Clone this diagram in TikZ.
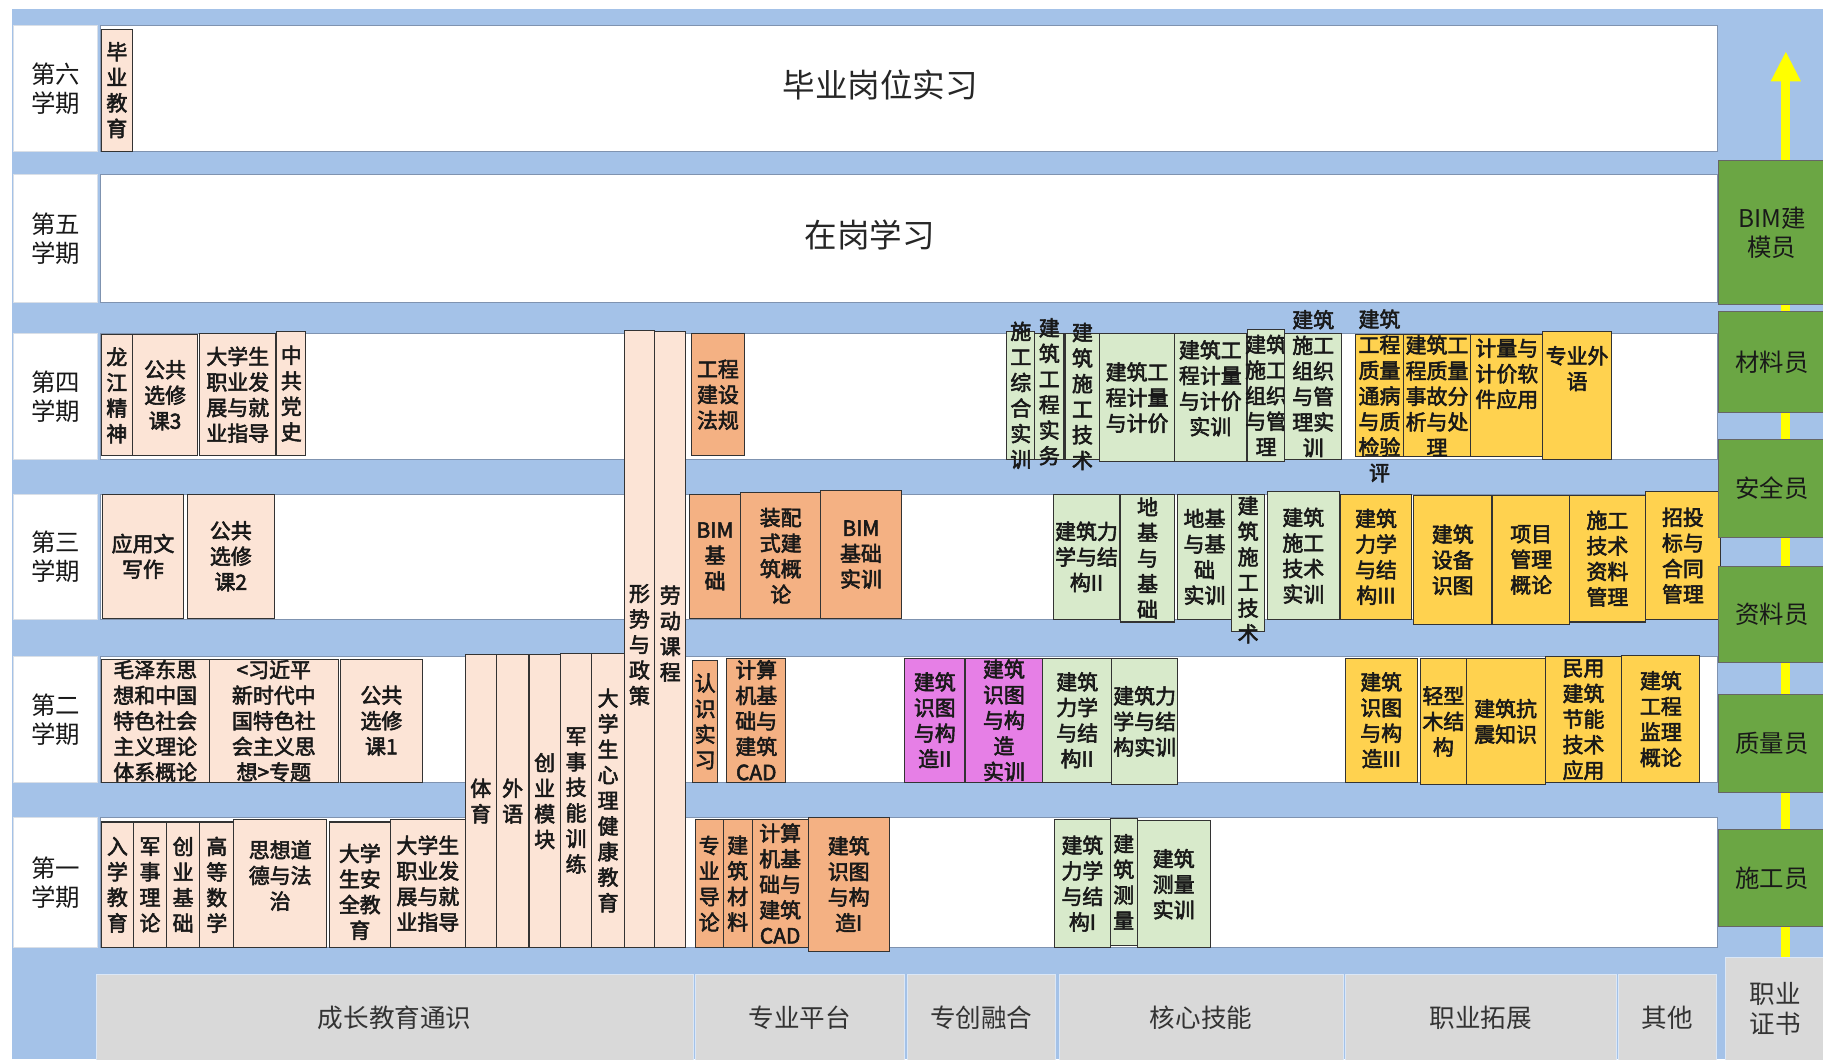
\documentclass[tikz,border=0pt]{standalone}
\usepackage{fontspec}
\setmainfont{Noto Sans CJK SC}[AutoFakeBold=2.6]
\usetikzlibrary{arrows.meta}
\definecolor{cBg}{HTML}{A4C2E8}
\definecolor{cPeach}{HTML}{FCE4D6}
\definecolor{cOrng}{HTML}{F4B183}
\definecolor{cMag}{HTML}{E67FE6}
\definecolor{cLgreen}{HTML}{D8EACB}
\definecolor{cGold}{HTML}{FFD24F}
\definecolor{cDgreen}{HTML}{6BA644}
\definecolor{cGry}{HTML}{D9D9D9}
\definecolor{cRow}{HTML}{7F93B0}
\definecolor{cYel}{HTML}{FFFF00}
% generic box: style, x1, y1, x2, y2, name  -> followed by {text};
\newcommand\mkb[6]{\node[#1,minimum width={(#4-#2)*1pt},minimum height={(#5-#3)*1pt}] (#6) at ({(#2+#4)/2},{(#3+#5)/2})}
% course box: [label opts], fill, x1, y1, x2, y2, name, text
\newcommand\cbx[8][]{\node[crs,fill=#2,minimum width={(#5-#3)*1pt},minimum height={(#6-#4)*1pt},label={[ctext,#1]center:{#8}}] (#7) at ({(#3+#5)/2},{(#4+#6)/2}) {};}
\begin{document}
\begin{tikzpicture}[x=1pt,y=-1pt,
  rowbox/.style={draw=cRow,line width=0.8pt,fill=white,inner sep=0pt,outer sep=0pt},
  semlab/.style={rowbox,draw=white!70!cRow,align=center,font=\fontsize{21}{25}\selectfont,text=black!90},
  bigtext/.style={font=\fontsize{28}{32}\selectfont,text=black!85},
  crs/.style={draw=black!80,line width=0.9pt,inner sep=0pt,outer sep=0pt},
  ctext/.style={align=center,font=\bfseries\fontsize{18}{22}\selectfont,text=black!90,inner sep=0pt},
  job/.style={draw=black!60,fill=cDgreen,line width=0.8pt,inner sep=0pt,align=center,font=\fontsize{21}{25}\selectfont,text=black!90},
  cat/.style={fill=cGry,draw=white!60!cBg,line width=0.6pt,inner sep=0pt,align=center,font=\fontsize{22}{26}\selectfont,text=black!80},
  yarrow/.style={draw=cYel,line width=8pt,-{Triangle[width=24pt,length=26pt]}}]
\useasboundingbox (0,0) rectangle (1568,911);
\fill[white] (0,0) rectangle (1568,911);
\fill[cBg] (10,8) rectangle (1568,911);

% yellow arrow
\coordinate (arrS) at (1536,830);
\coordinate (arrE) at (1536,44);
\draw[yarrow] (arrS) -- (arrE);

% semester labels
\mkb{semlab}{12}{22}{84}{130}{s6} {第六\\学期};
\mkb{semlab}{12}{150}{84}{260}{s5} {第五\\学期};
\mkb{semlab}{12}{287}{84}{395}{s4} {第四\\学期};
\mkb{semlab}{12}{425}{84}{533}{s3} {第三\\学期};
\mkb{semlab}{12}{565}{84}{673}{s2} {第二\\学期};
\mkb{semlab}{12}{703}{84}{815}{s1} {第一\\学期};

% row boxes
\mkb{rowbox}{86}{22}{1477}{130}{r6} {};
\mkb{rowbox}{86}{150}{1477}{260}{r5} {};
\mkb{rowbox}{86}{287}{1477}{395}{r4} {};
\mkb{rowbox}{86}{425}{1477}{533}{r3} {};
\mkb{rowbox}{86}{565}{1477}{673}{r2} {};
\mkb{rowbox}{86}{703}{1477}{815}{r1} {};
\node[bigtext] (t6) at (757,73) {毕业岗位实习};
\node[bigtext] (t5) at (748,202) {在岗学习};

% row 6
\cbx{cPeach}{87}{25}{114}{130}{c61}{毕\\业\\教\\育}

% row 4
\cbx{cPeach}{87}{288}{114}{392}{c41}{龙\\江\\精\\神}
\cbx{cPeach}{114}{288}{170}{392}{c42}{公共\\选修\\课3}
\cbx{cPeach}{172}{287}{237}{392}{c43}{大学生\\职业发\\展与就\\业指导}
\cbx{cPeach}{238}{285}{263}{392}{c44}{中\\共\\党\\史}
\cbx{cOrng}{595}{287}{640}{392}{c45}{工程\\建设\\法规}
\cbx{cLgreen}{866}{285}{890}{395}{c46}{施\\工\\综\\合\\实\\训}
\cbx[yshift=4pt]{cLgreen}{890}{287}{915}{395}{c47}{建\\筑\\工\\程\\实\\务}
\cbx{cLgreen}{916}{287}{946}{395}{c48}{建\\筑\\施\\工\\技\\术}
\cbx{cLgreen}{946}{287}{1010}{397}{c49}{建筑工\\程计量\\与计价}
\cbx[yshift=8pt]{cLgreen}{1010}{287}{1072}{397}{c410}{建筑工\\程计量\\与计价\\实训}
\cbx{cLgreen}{1073}{283}{1105}{397}{c411}{建筑\\施工\\组织\\与管\\理}
\cbx[yshift=11pt]{cLgreen}{1105}{287}{1154}{395}{c412}{建筑\\施工\\组织\\与管\\理实\\训}
\cbx{cGold}{1166}{288}{1207}{393}{c413}{建筑\\工程\\质量\\通病\\与质\\检验\\评}
\cbx{cGold}{1207}{288}{1265}{393}{c414}{建筑工\\程质量\\事故分\\析与处\\理}
\cbx[yshift=19pt]{cGold}{1265}{288}{1327}{393}{c415}{计量与\\计价软\\件应用}
\cbx[yshift=23pt]{cGold}{1327}{285}{1386}{395}{c416}{专业外\\语}

% row 3
\cbx{cPeach}{88}{425}{158}{532}{c31}{应用文\\写作}
\cbx{cPeach}{161}{425}{236}{532}{c32}{公共\\选修\\课2}
\cbx{cOrng}{593}{425}{637}{532}{c33}{BIM\\基\\础}
\cbx{cOrng}{637}{424}{706}{532}{c34}{装配\\式建\\筑概\\论}
\cbx{cOrng}{706}{422}{775}{532}{c35}{BIM\\基础\\实训}
\cbx{cLgreen}{906}{425}{963}{533}{c36}{建筑力\\学与结\\构II}
\cbx{cLgreen}{964}{425}{1010}{535}{c37}{地\\基\\与\\基\\础}
\cbx{cLgreen}{1013}{425}{1059}{533}{c38}{地基\\与基\\础\\实训}
\cbx[yshift=-6pt]{cLgreen}{1059}{425}{1088}{543}{c39}{建\\筑\\施\\工\\技\\术}
\cbx{cLgreen}{1090}{423}{1152}{533}{c310}{建筑\\施工\\技术\\实训}
\cbx{cGold}{1153}{425}{1214}{533}{c311}{建筑\\力学\\与结\\构III}
\cbx{cGold}{1216}{426}{1283}{537}{c312}{建筑\\设备\\识图}
\cbx{cGold}{1284}{426}{1350}{537}{c313}{项目\\管理\\概论}
\cbx{cGold}{1350}{426}{1415}{535}{c314}{施工\\技术\\资料\\管理}
\cbx{cGold}{1415}{423}{1480}{533}{c315}{招投\\标与\\合同\\管理}

% row 2
\cbx{cPeach}{87}{567}{180}{673}{c21}{毛泽东思\\想和中国\\特色社会\\主义理论\\体系概论}
\cbx{cPeach}{180}{567}{291}{673}{c22}{<习近平\\新时代中\\国特色社\\会主义思\\想>专题}
\cbx{cPeach}{293}{567}{363}{673}{c23}{公共\\选修\\课1}
\cbx{cOrng}{596}{568}{617}{673}{c24}{认\\识\\实\\习}
\cbx{cOrng}{625}{566}{676}{673}{c25}{计算\\机基\\础与\\建筑\\CAD}
\cbx{cMag}{778}{566}{830}{673}{c26}{建筑\\识图\\与构\\造II}
\cbx{cMag}{830}{566}{897}{673}{c27}{建筑\\识图\\与构\\造\\实训}
\cbx{cLgreen}{897}{566}{956}{673}{c28}{建筑\\力学\\与结\\构II}
\cbx{cLgreen}{956}{566}{1013}{675}{c29}{建筑力\\学与结\\构实训}
\cbx{cGold}{1157}{566}{1219}{673}{c210}{建筑\\识图\\与构\\造III}
\cbx{cGold}{1222}{566}{1261}{675}{c211}{轻型\\木结\\构}
\cbx{cGold}{1261}{566}{1329}{675}{c212}{建筑抗\\震知识}
\cbx{cGold}{1329}{565}{1395}{673}{c213}{民用\\建筑\\节能\\技术\\应用}
\cbx{cGold}{1395}{564}{1462}{673}{c214}{建筑\\工程\\监理\\概论}

% row 1
\cbx{cPeach}{87}{707}{115}{815}{c11}{入\\学\\教\\育}
\cbx{cPeach}{115}{707}{143}{815}{c12}{军\\事\\理\\论}
\cbx{cPeach}{143}{707}{172}{815}{c13}{创\\业\\基\\础}
\cbx{cPeach}{172}{707}{201}{815}{c14}{高\\等\\数\\学}
\cbx[yshift=7pt]{cPeach}{201}{705}{281}{815}{c15}{思想道\\德与法\\治}
\cbx[yshift=-6pt]{cPeach}{283}{707}{336}{815}{c16}{大学\\生安\\全教\\育}
\cbx{cPeach}{336}{705}{400}{815}{c17}{大学生\\职业发\\展与就\\业指导}
\cbx{cOrng}{598}{705}{622}{815}{c18}{专\\业\\导\\论}
\cbx{cOrng}{622}{705}{647}{815}{c19}{建\\筑\\材\\料}
\cbx{cOrng}{647}{705}{695}{815}{c110}{计算\\机基\\础与\\建筑\\CAD}
\cbx{cOrng}{695}{703}{765}{818}{c111}{建筑\\识图\\与构\\造I}
\cbx{cLgreen}{907}{705}{955}{815}{c112}{建筑\\力学\\与结\\构I}
\cbx{cLgreen}{955}{704}{978}{813}{c113}{建\\筑\\测\\量}
\cbx{cLgreen}{978}{706}{1041}{815}{c114}{建筑\\测量\\实训}

% tall spanning courses
\cbx{cPeach}{400}{563}{427}{815}{k1}{体\\育}
\cbx{cPeach}{427}{563}{455}{815}{k2}{外\\语}
\cbx{cPeach}{455}{563}{482}{815}{k3}{创\\业\\模\\块}
\cbx{cPeach}{482}{562}{509}{815}{k4}{军\\事\\技\\能\\训\\练}
\cbx{cPeach}{509}{562}{537}{815}{k5}{大\\学\\生\\心\\理\\健\\康\\教\\育}
\cbx[yshift=-5pt]{cPeach}{537}{284}{563}{815}{k6}{形\\势\\与\\政\\策}
\cbx[yshift=5pt]{cPeach}{563}{285}{590}{815}{k7}{劳\\动\\课\\程}

% job boxes
\mkb{job}{1478}{138}{1570}{262}{j1} {BIM建\\模员};
\mkb{job}{1478}{268}{1570}{355}{j2} {材料员};
\mkb{job}{1478}{378}{1570}{462}{j3} {安全员};
\mkb{job}{1478}{487}{1570}{570}{j4} {资料员};
\mkb{job}{1478}{597}{1570}{682}{j5} {质量员};
\mkb{job}{1478}{713}{1570}{797}{j6} {施工员};

% category boxes
\mkb{cat}{83}{838}{596}{913}{g1} {成长教育通识};
\mkb{cat}{598}{838}{778}{913}{g2} {专业平台};
\mkb{cat}{780}{838}{908}{913}{g3} {专创融合};
\mkb{cat}{911}{838}{1155}{913}{g4} {核心技能};
\mkb{cat}{1157}{838}{1390}{913}{g5} {职业拓展};
\mkb{cat}{1392}{838}{1476}{913}{g6} {其他};
\mkb{cat}{1484}{823}{1570}{913}{g7} {职业\\证书};
\end{tikzpicture}
\end{document}
